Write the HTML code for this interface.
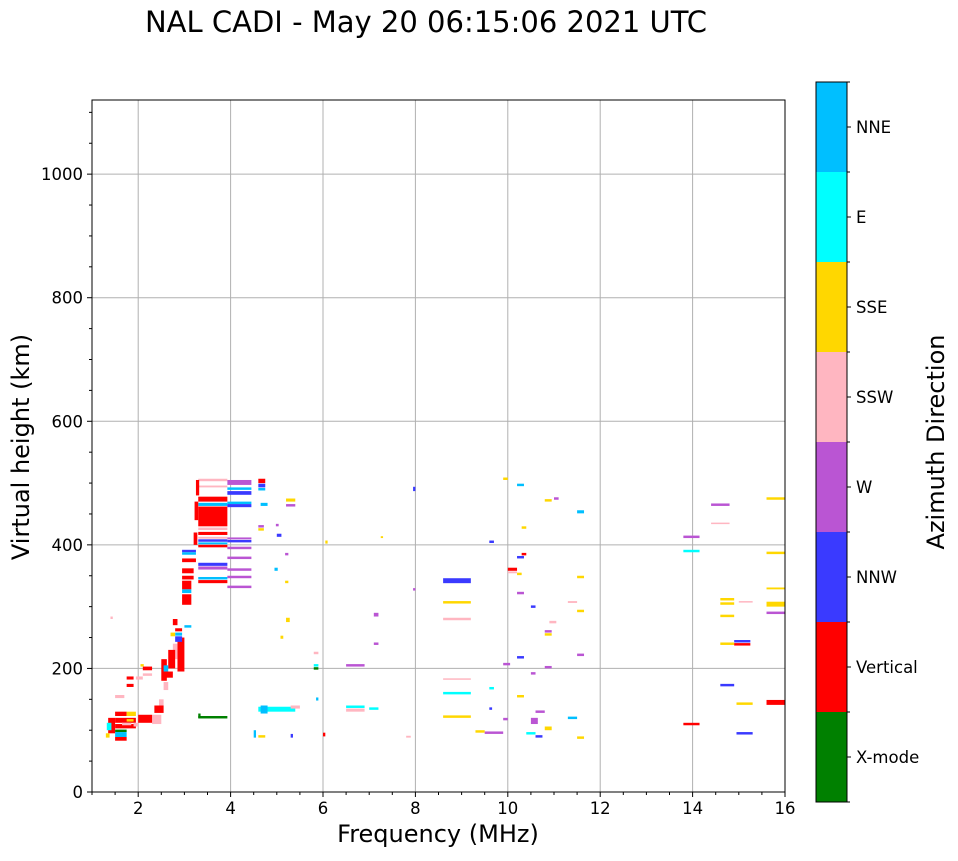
<!DOCTYPE html>
<html><head><meta charset="utf-8"><style>
body{margin:0;background:#fff;font-family:"DejaVu Sans","Liberation Sans",sans-serif}
svg text{font-family:"DejaVu Sans","Liberation Sans",sans-serif}
</style></head><body>
<svg id="svg" width="958" height="857">
<text x="426" y="32" font-size="29" text-anchor="middle">NAL CADI - May 20 06:15:06 2021 UTC</text>
<g id="grid"></g><g id="marks"></g><g id="axes"></g><g id="cbar"></g>
<text x="438" y="842" font-size="24" text-anchor="middle">Frequency (MHz)</text>
<text transform="translate(29,447) rotate(-90)" font-size="24" text-anchor="middle">Virtual height (km)</text>
<text transform="translate(944,442) rotate(-90)" font-size="24" text-anchor="middle">Azimuth Direction</text>
</svg>
<script>
const xTicks=[2,4,6,8,10,12,14,16];
const yTicks=[0,200,400,600,800,1000];
const directions=["X-mode","Vertical","NNW","W","SSW","SSE","E","NNE"];
const dirColors=["#008000","#ff0000","#3a3aff","#ba55d3","#ffb6c1","#ffd700","#00ffff","#00bfff"];
// echoes: [freqStart, freqEnd, heightLow, heightHigh, directionIndex]
const echoes=[
[3.3,3.93,503,507,4],[3.3,3.93,493,496,4],[3.3,3.93,470,478,1],[3.3,3.93,463,468,7],[3.3,3.93,430,462,1],
[3.3,3.93,424,428,4],[3.3,3.93,416,421,1],[3.3,3.93,410,413,4],[3.3,3.93,405,409,2],[3.3,3.93,401,404,7],[3.3,3.93,396,400,1],
[3.25,3.32,480,505,1],[3.22,3.3,440,470,1],[3.2,3.28,400,420,1],
[3.93,4.45,497,505,3],[3.93,4.45,489,493,7],[3.93,4.45,481,487,2],[3.93,4.45,466,470,7],[3.93,4.45,461,466,2],
[3.93,4.45,409,412,3],[3.93,4.45,404,408,2],[3.93,4.45,393,397,3],[3.93,4.45,377,381,3],[3.93,4.45,358,362,3],[3.93,4.45,346,350,3],[3.93,4.45,330,334,3],
[2.95,3.25,388,392,2],[2.95,3.25,384,388,7],[2.95,3.25,372,378,1],[3.3,3.93,366,371,2],[3.3,3.93,360,365,3],
[2.95,3.2,354,362,1],[2.95,3.2,344,350,1],[3.3,3.93,344,348,7],[3.3,3.93,338,343,1],
[2.95,3.15,328,342,1],[2.95,3.15,322,328,7],[2.95,3.15,303,320,1],
[2.85,3.0,195,250,1],[2.8,2.95,243,252,2],[2.8,2.95,253,258,7],[2.8,2.95,260,265,1],[2.7,2.8,252,258,5],[3.0,3.15,266,270,7],
[2.75,2.85,215,240,4],[2.65,2.8,200,230,1],[2.5,2.62,180,215,1],[2.55,2.65,165,178,4],[2.55,2.65,195,205,7],[2.75,2.85,270,280,1],
[2.45,2.55,140,150,4],[2.35,2.55,128,140,1],[2.3,2.5,110,125,4],[2.0,2.3,112,125,1],[2.6,2.75,185,195,1],
[1.5,1.75,123,130,1],[1.75,1.95,123,130,5],[1.5,1.95,112,120,1],[1.75,1.9,114,118,5],[1.5,1.95,103,110,1],
[1.5,1.75,97,101,0],[1.5,1.75,89,97,7],[1.5,1.75,83,89,1],[1.35,1.5,95,120,1],[1.32,1.42,100,112,6],[1.3,1.38,88,95,5],
[1.65,1.85,108,112,4],[1.9,2.0,106,112,4],[1.75,1.9,182,187,1],[1.75,1.9,170,175,1],[1.95,2.1,182,187,4],[1.5,1.7,152,157,4],
[2.1,2.3,197,203,1],[2.05,2.12,203,207,5],[2.1,2.3,188,192,4],[1.4,1.45,280,284,4],
[3.3,3.93,119,123,0],[3.3,3.35,120,127,0],
[4.6,4.75,500,507,1],[4.6,4.75,493,499,2],[4.6,4.75,488,492,7],[4.65,4.8,463,468,7],[4.6,4.72,428,432,3],[4.6,4.72,423,427,5],
[5.2,5.4,470,475,5],[5.2,5.4,462,466,3],[5.0,5.1,413,418,2],[5.18,5.25,383,387,3],[5.18,5.25,338,342,5],[5.2,5.28,275,282,5],[5.08,5.14,248,253,5],
[4.95,5.02,358,363,7],[4.98,5.04,430,434,3],
[4.6,5.4,130,138,6],[4.65,4.8,127,140,7],[5.3,5.5,135,140,4],[4.5,4.55,88,100,7],[4.6,4.75,88,92,5],[5.3,5.35,88,94,2],
[5.8,5.9,223,227,4],[5.8,5.9,203,207,6],[5.8,5.9,198,202,0],[5.85,5.9,148,153,7],[6.0,6.05,90,96,1],[6.05,6.1,402,407,5],
[6.5,6.9,203,207,3],[6.5,6.9,136,140,6],[6.5,6.9,130,135,4],[7.0,7.2,133,137,6],[7.1,7.2,284,290,3],[7.1,7.2,238,242,3],[7.25,7.3,411,414,5],[7.8,7.9,88,91,4],
[7.95,8.0,487,494,2],[7.95,8.0,326,330,3],
[8.6,9.2,338,346,2],[8.6,9.2,305,309,5],[8.6,9.2,278,282,4],[8.6,9.2,182,184,4],[8.6,9.2,158,162,6],[8.6,9.2,120,124,5],
[9.3,9.5,96,100,5],[9.5,9.9,94,98,3],[9.6,9.7,403,407,2],[9.6,9.7,166,170,6],[9.6,9.66,133,137,2],
[9.9,10.0,505,509,5],[9.9,10.05,205,209,3],[9.9,10.0,116,120,3],[10.2,10.35,495,499,7],[10.0,10.2,358,363,1],[10.0,10.2,354,357,4],
[10.2,10.35,378,382,2],[10.3,10.4,383,387,1],[10.2,10.3,351,355,5],[10.2,10.35,320,324,3],[10.5,10.6,298,302,2],[10.3,10.4,426,430,5],
[10.2,10.35,216,220,2],[10.2,10.35,153,157,5],[10.5,10.6,190,194,3],[10.5,10.65,110,120,3],[10.6,10.8,128,132,3],[10.4,10.6,93,97,6],
[10.6,10.75,88,92,2],[10.8,10.95,100,106,5],[10.8,10.95,253,257,5],[10.8,10.95,258,262,3],[10.8,10.95,470,474,5],[11.0,11.1,473,477,3],
[10.8,10.95,200,204,3],[10.9,11.05,273,277,4],[11.3,11.5,118,122,7],[11.3,11.5,306,309,4],[11.5,11.65,451,456,7],[11.5,11.65,346,350,5],
[11.5,11.65,291,295,5],[11.5,11.65,220,224,3],[11.5,11.65,86,90,5],
[13.8,14.15,388,392,6],[13.8,14.15,411,415,3],[13.8,14.15,108,112,1],[14.4,14.8,463,467,3],[14.4,14.8,434,436,4],
[14.6,14.9,310,314,5],[14.6,14.9,303,307,5],[14.6,14.9,283,287,5],[14.6,14.9,238,242,5],[14.9,15.25,242,246,2],[14.9,15.25,237,241,1],
[14.6,14.9,171,175,2],[14.95,15.3,141,145,5],[14.95,15.3,93,97,2],[15.0,15.3,307,309,4],
[15.6,16,473,477,5],[15.6,16,385,389,5],[15.6,16,328,331,5],[15.6,16,300,308,5],[15.6,16,288,292,3],[15.6,16,141,149,1]
];
const X0=92,X1=785,Y0=792,Y1=100,FMIN=1,FMAX=16,HMAX=1120;
const sx=f=>X0+(f-FMIN)/(FMAX-FMIN)*(X1-X0);
const sy=h=>Y0-h/HMAX*(Y0-Y1);
const NS="http://www.w3.org/2000/svg";
function mk(tag,attrs,parent){const e=document.createElementNS(NS,tag);for(const k in attrs)e.setAttribute(k,attrs[k]);parent.appendChild(e);return e;}
const grid=document.getElementById('grid'),marks=document.getElementById('marks'),axes=document.getElementById('axes'),cbar=document.getElementById('cbar');
xTicks.forEach(t=>{if(t<FMAX){const l=mk('line',{x1:sx(t),x2:sx(t),y1:Y1,y2:Y0,stroke:'#b0b0b0','stroke-width':1},grid);

}});
yTicks.forEach(t=>{if(t>0){const l=mk('line',{x1:X0,x2:X1,y1:sy(t),y2:sy(t),stroke:'#b0b0b0','stroke-width':1},grid);

}});
echoes.forEach(d=>{const r=mk('rect',{x:sx(d[0]),y:sy(d[3]),width:Math.max(1,sx(d[1])-sx(d[0])),height:Math.max(1.5,sy(d[2])-sy(d[3])),fill:dirColors[d[4]]},marks);

});
const fr=mk('rect',{x:X0,y:Y1,width:X1-X0,height:Y0-Y1,fill:'none',stroke:'#000','stroke-width':1},axes);


for(let f=1;f<=16;f+=0.5){mk('line',{x1:sx(f),x2:sx(f),y1:Y0,y2:Y0+(f%2===0?5:3),stroke:'#000'},axes);}
for(let h=0;h<=1100;h+=50){mk('line',{x1:X0,x2:X0-(h%200===0?5:3),y1:sy(h),y2:sy(h),stroke:'#000'},axes);}
xTicks.forEach(t=>{const e=mk('text',{x:sx(t),y:Y0+22,'font-size':16.5,'text-anchor':'middle'},axes);e.textContent=t;

});
yTicks.forEach(t=>{const e=mk('text',{x:X0-9,y:sy(t)+6,'font-size':16.5,'text-anchor':'end'},axes);e.textContent=t;

});
const CB0=82,CB1=802,CBX=816,CBW=31,seg=(CB1-CB0)/directions.length;
directions.forEach((d,i)=>{const y=CB1-(i+1)*seg;
const r=mk('rect',{x:CBX,y:y,width:CBW,height:seg,fill:dirColors[i]},cbar);


mk('line',{x1:CBX+CBW,x2:CBX+CBW+4,y1:y+seg/2,y2:y+seg/2,stroke:'#000'},cbar);
const t=mk('text',{x:CBX+CBW+9,y:y+seg/2+6,'font-size':16.5},cbar);t.textContent=d;

});
for(let i=0;i<=directions.length;i++){mk('line',{x1:CBX+CBW,x2:CBX+CBW+3,y1:CB0+i*seg,y2:CB0+i*seg,stroke:'#000'},cbar);}
const cf=mk('rect',{x:CBX,y:CB0,width:CBW,height:CB1-CB0,fill:'none',stroke:'#000'},cbar);


</script>
</body></html>
